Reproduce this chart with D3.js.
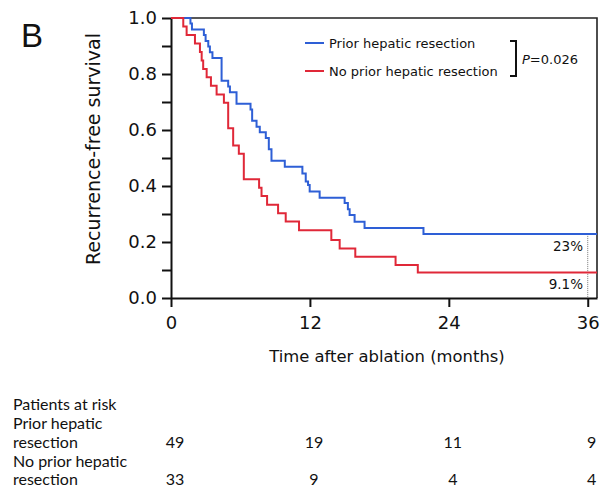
<!DOCTYPE html>
<html>
<head>
<meta charset="utf-8">
<script src="https://cdn.jsdelivr.net/npm/d3@7"></script>
<style>
	body { margin: 0; background: #fff; }
	svg { display: block; }
	.axis text { font-family: "DejaVu Sans", sans-serif; font-size: 18px; fill: #111; }
	.axis path, .axis line { stroke: #111; stroke-width: 2px; }
	.lbl { font-family: "DejaVu Sans", sans-serif; fill: #111; }
	.risk { font-family: "Lato", "Open Sans", sans-serif; font-size: 16px; fill: #111; }
</style>
</head>
<body>
<script>
// Kaplan-Meier steps (months, survival after the step)
var priorTime = [0, 1.68, 1.81, 2.84, 2.99, 3.22, 3.36, 3.58, 4.37, 4.94, 5.09, 5.66, 6.87, 7.01, 7.39, 7.67, 8.19, 8.45, 8.68, 9.83, 11.35, 11.64, 11.84, 11.98, 12.84, 15.0, 15.28, 15.43, 15.86, 16.72, 21.81];
var priorSurv = [1.0, 0.980, 0.959, 0.939, 0.918, 0.898, 0.878, 0.857, 0.776, 0.755, 0.735, 0.694, 0.673, 0.633, 0.612, 0.592, 0.571, 0.531, 0.490, 0.469, 0.445, 0.416, 0.404, 0.380, 0.358, 0.339, 0.317, 0.296, 0.272, 0.250, 0.229];

var noPriorTime = [0, 1.06, 1.35, 2.07, 2.5, 2.65, 2.78, 3.08, 3.45, 3.94, 4.57, 4.94, 5.37, 5.86, 6.29, 7.61, 7.82, 8.30, 9.25, 9.91, 11.06, 13.85, 14.57, 15.92, 19.40, 21.32];
var noPriorSurv = [1.0, 0.970, 0.939, 0.909, 0.879, 0.848, 0.818, 0.788, 0.758, 0.727, 0.697, 0.606, 0.545, 0.515, 0.424, 0.394, 0.364, 0.333, 0.303, 0.273, 0.242, 0.207, 0.177, 0.147, 0.118, 0.091];

var seriesNames = ['Prior hepatic resection', 'No prior hepatic resection'];
var seriesColors = ['#2e5fd6', '#e02838'];
var endLabels = ['23%', '9.1%'];

var xTicks = [0, 12, 24, 36];
var yTicks = [0, 0.1, 0.2, 0.3, 0.4, 0.5, 0.6, 0.7, 0.8, 0.9, 1.0];

// numbers at risk
var riskTimes = [0, 12, 24, 36];
var riskPrior = [49, 19, 11, 9];
var riskNoPrior = [33, 9, 4, 4];

var W = 612, H = 490;
var tMax = 36.8;

var svg = d3.select('body').append('svg')
	.attr('width', W)
	.attr('height', H);

var x = d3.scaleLinear().domain([0, tMax]).range([171, 597]);
var y = d3.scaleLinear().domain([0, 1]).range([298, 18]);

// Panel letter
svg.append('text')
	.attr('class', 'lbl')
	.attr('x', 21)
	.attr('y', 47)
	.style('font-family', '"Liberation Sans", Arial, sans-serif')
	.style('font-size', '33px')
	.text('B');

// Frame (top and right)
svg.append('path')
	.attr('d', 'M' + x(0) + ',' + y(1) + 'H' + x(tMax) + 'V' + y(0))
	.attr('fill', 'none')
	.attr('stroke', '#222')
	.attr('stroke-width', 1.6);

// Axes
svg.append('g')
	.attr('class', 'axis')
	.attr('transform', 'translate(0,' + y(0) + ')')
	.call(d3.axisBottom(x).tickValues(xTicks).tickSize(9).tickPadding(9).tickSizeOuter(0));

svg.append('g')
	.attr('class', 'axis')
	.attr('transform', 'translate(' + x(0) + ',0)')
	.call(d3.axisLeft(y).tickValues(yTicks).tickSize(9).tickPadding(5).tickSizeOuter(0)
		.tickFormat(function(d) { return (Math.round(d * 10) % 2 === 0) ? d3.format('.1f')(d) : ''; }));

// Axis titles
svg.append('text')
	.attr('class', 'lbl')
	.attr('x', 387)
	.attr('y', 362)
	.attr('text-anchor', 'middle')
	.style('font-size', '16.4px')
	.text('Time after ablation (months)');

svg.append('text')
	.attr('class', 'lbl')
	.attr('transform', 'translate(100,149) rotate(-90)')
	.attr('text-anchor', 'middle')
	.style('font-size', '19px')
	.text('Recurrence-free survival');

// Dotted reference line at 36 months
svg.append('line')
	.attr('x1', x(36)).attr('x2', x(36))
	.attr('y1', y(priorSurv[priorSurv.length - 1]))
	.attr('y2', y(0))
	.attr('stroke', '#777')
	.attr('stroke-width', 1)
	.attr('stroke-dasharray', '1,1');

// Survival curves
var line = d3.line()
	.x(function(d) { return x(d[0]); })
	.y(function(d) { return y(d[1]); })
	.curve(d3.curveStepAfter);

function steps(times, surv) {
	var pts = times.map(function(t, i) { return [t, surv[i]]; });
	pts.push([tMax, surv[surv.length - 1]]);
	return pts;
}

var curves = [steps(priorTime, priorSurv), steps(noPriorTime, noPriorSurv)];

svg.selectAll('path.km')
	.data(curves)
	.enter().append('path')
	.attr('class', 'km')
	.attr('d', line)
	.attr('fill', 'none')
	.attr('stroke', function(d, i) { return seriesColors[i]; })
	.attr('stroke-width', 2);

// Percent labels at the end
var endY = [251, 289];
svg.selectAll('text.pct')
	.data(endLabels)
	.enter().append('text')
	.attr('class', 'lbl pct')
	.attr('x', 583)
	.attr('y', function(d, i) { return endY[i]; })
	.attr('text-anchor', 'end')
	.style('font-size', '13.5px')
	.text(function(d) { return d; });

// Legend
var legend = svg.append('g');
seriesNames.forEach(function(name, i) {
	var ly = 43 + i * 28;
	legend.append('line')
		.attr('x1', 305).attr('x2', 324)
		.attr('y1', ly).attr('y2', ly)
		.attr('stroke', seriesColors[i])
		.attr('stroke-width', 2);
	legend.append('text')
		.attr('class', 'lbl')
		.attr('x', 329)
		.attr('y', ly + 4.5)
		.style('font-size', '13px')
		.text(name);
});

// Bracket and p value
legend.append('path')
	.attr('d', 'M510,41H516V76H510')
	.attr('fill', 'none')
	.attr('stroke', '#111')
	.attr('stroke-width', 2);

var pText = legend.append('text')
	.attr('class', 'lbl')
	.attr('x', 522)
	.attr('y', 64)
	.style('font-size', '13px');
pText.append('tspan').style('font-style', 'italic').text('P');
pText.append('tspan').text('=0.026');

// Patients at risk table
var rows = [
	{ label: 'Patients at risk', y: 410 },
	{ label: 'Prior hepatic', y: 429 },
	{ label: 'resection', y: 448, values: riskPrior },
	{ label: 'No prior hepatic', y: 467 },
	{ label: 'resection', y: 485, values: riskNoPrior }
];

rows.forEach(function(r) {
	svg.append('text')
		.attr('class', 'risk')
		.attr('x', 13)
		.attr('y', r.y)
		.text(r.label);
	if (r.values) {
		svg.selectAll(null)
			.data(r.values)
			.enter().append('text')
			.attr('class', 'risk')
			.attr('x', function(d, i) { return x(riskTimes[i]) + 4; })
			.attr('y', r.y)
			.attr('text-anchor', 'middle')
			.text(function(d) { return d; });
	}
});
</script>
</body>
</html>
